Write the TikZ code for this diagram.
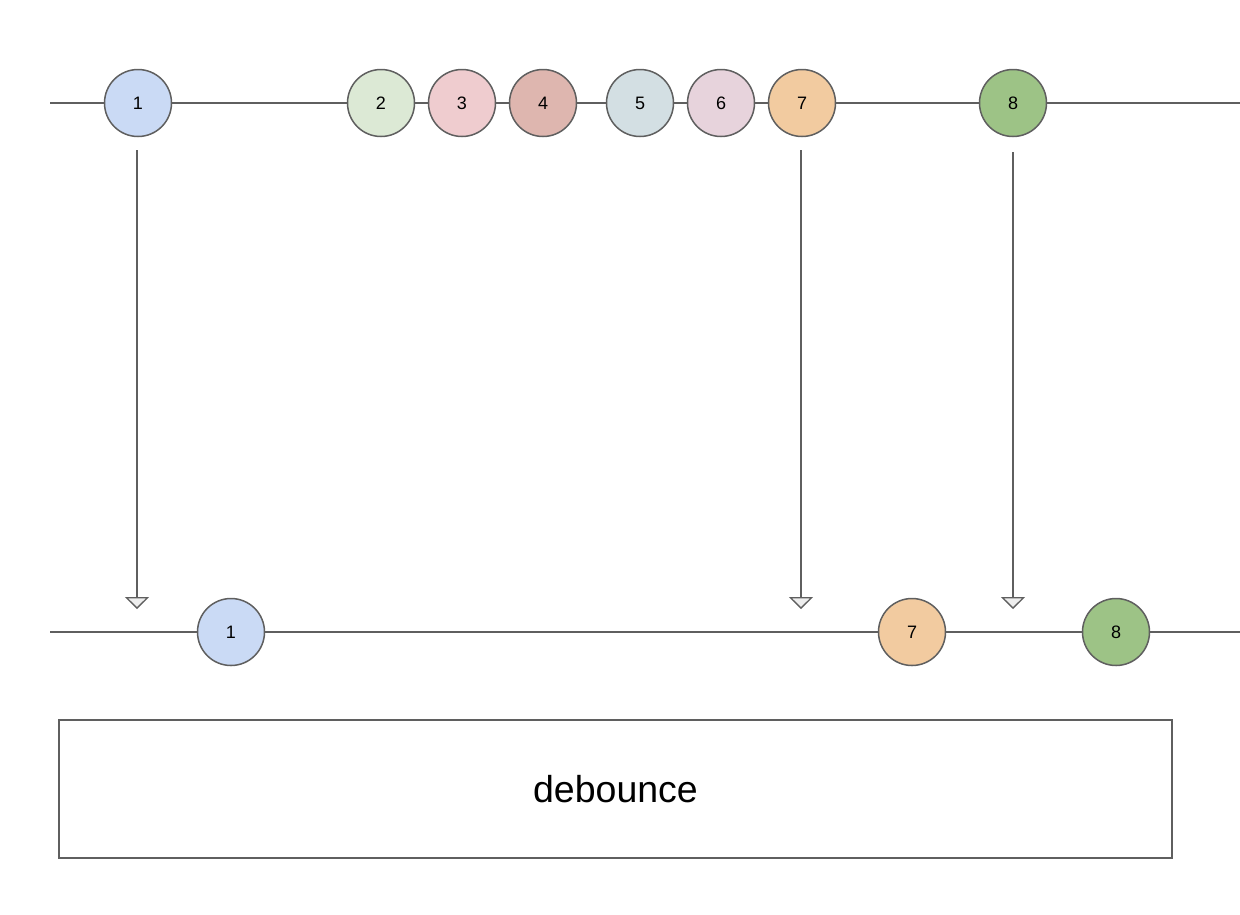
\documentclass[tikz,border=0pt]{standalone}
\usepackage{fontspec}
\setmainfont{Liberation Sans}
\usetikzlibrary{arrows.meta}
\definecolor{strokec}{HTML}{5F5F5F}
\definecolor{c1}{HTML}{CADAF5}
\definecolor{c2}{HTML}{DCE9D5}
\definecolor{c3}{HTML}{EFCCCF}
\definecolor{c4}{HTML}{DEB6AF}
\definecolor{c5}{HTML}{D3DFE3}
\definecolor{c6}{HTML}{E7D3DC}
\definecolor{c7}{HTML}{F2CBA0}
\definecolor{c8}{HTML}{9DC386}
\definecolor{tipc}{HTML}{EEEEEE}
\tikzset{
  marble/.style={circle, draw=strokec, line width=1.5pt, minimum size=67pt, inner sep=0pt, font=\fontsize{18pt}{20pt}\selectfont},
  tline/.style={draw=strokec, line width=1.5pt},
  emit/.style={draw=strokec, line width=1.3pt, -{Triangle[open, width=24pt, length=12pt, fill=tipc]}},
  opbox/.style={draw=strokec, line width=1.8pt, minimum width=1113pt, minimum height=138pt, inner sep=0pt, font=\fontsize{37.5pt}{40pt}\selectfont}
}
\begin{document}
\begin{tikzpicture}[x=1pt,y=-1pt]
\useasboundingbox (0,0) rectangle (1240,914);
% timelines
\coordinate (t0) at (50,103);
\coordinate (t1) at (1240,103);
\coordinate (b0) at (50,632);
\coordinate (b1) at (1240,632);
\draw[tline] (t0) -- (t1);
\draw[tline] (b0) -- (b1);
% top marbles
\node[marble, fill=c1] (a1) at (138,103) {1};
\node[marble, fill=c2] (a2) at (381,103) {2};
\node[marble, fill=c3] (a3) at (462,103) {3};
\node[marble, fill=c4] (a4) at (543,103) {4};
\node[marble, fill=c5] (a5) at (640,103) {5};
\node[marble, fill=c6] (a6) at (721,103) {6};
\node[marble, fill=c7] (a7) at (802,103) {7};
\node[marble, fill=c8] (a8) at (1013,103) {8};
% bottom marbles
\node[marble, fill=c1] (o1) at (231,632) {1};
\node[marble, fill=c7] (o7) at (912,632) {7};
\node[marble, fill=c8] (o8) at (1116,632) {8};
% arrows
\coordinate (s1) at (137,150);
\coordinate (e1) at (137,609);
\coordinate (s7) at (801,150);
\coordinate (e7) at (801,609);
\coordinate (s8) at (1013,152);
\coordinate (e8) at (1013,609);
\draw[emit] (s1) -- (e1);
\draw[emit] (s7) -- (e7);
\draw[emit] (s8) -- (e8);
% operator box
\node[opbox] (op) at (615.5,789) {\raisebox{-2pt}{debounce}};
\end{tikzpicture}
\end{document}
